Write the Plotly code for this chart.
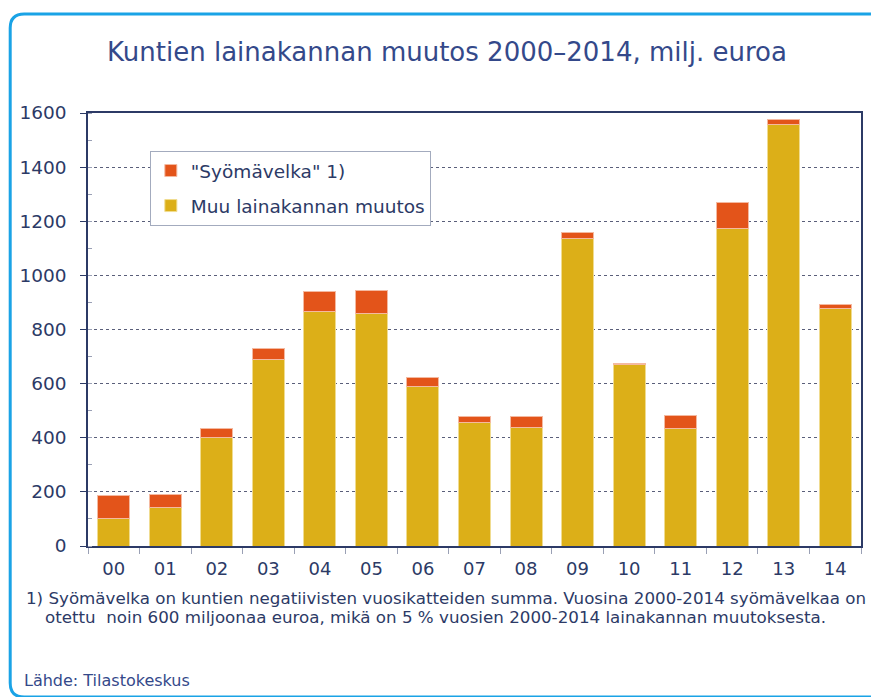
import plotly.graph_objects as go

years = ["00", "01", "02", "03", "04", "05", "06", "07", "08", "09", "10", "11", "12", "13", "14"]
muu = [100, 143, 400, 690, 867, 860, 588, 455, 439, 1138, 672, 433, 1174, 1556, 879]
syomavelka = [88, 48, 33, 40, 75, 83, 36, 22, 41, 20, 4, 51, 94, 21, 14]
y_ticks = [0, 200, 400, 600, 800, 1000, 1200, 1400, 1600]

W, H = 875, 697
L, R, T, B = 88, 12, 113, 151
pw, ph = W - L - R, H - T - B

def px(x):
    return (x - L) / pw

def py(y):
    return (H - B - y) / ph

navy = "#2c3a66"
fig = go.Figure()
fig.add_trace(go.Bar(x=years, y=muu, name="Muu lainakannan muutos", legendgroup="a", legendrank=2,
                     marker=dict(color="#dcaf18", line=dict(color="#f0dc90", width=1))))
fig.add_trace(go.Bar(x=years, y=syomavelka, name="\"Syömävelka\" 1)", legendgroup="b", legendrank=1,
                     marker=dict(color="#e3541a", line=dict(color="#f4b9a0", width=1))))

fig.update_layout(
    width=W, height=H,
    margin=dict(l=L, r=R, t=T, b=B),
    barmode="stack", bargap=0.38,
    plot_bgcolor="white", paper_bgcolor="white",
    font=dict(family="DejaVu Sans", color=navy, size=18),
    title=dict(text="Kuntien lainakannan muutos 2000–2014, milj. euroa",
               x=447 / W, xanchor="center", y=1 - 52 / H, yanchor="middle",
               font=dict(family="DejaVu Sans", size=26, color="#34498a")),
    legend=dict(x=px(150), y=py(151), xanchor="left", yanchor="top",
                traceorder="grouped", tracegroupgap=8,
                bgcolor="white", bordercolor="#a3abbe",
                borderwidth=1, font=dict(size=18.5, color=navy)),
    showlegend=True,
)
fig.update_yaxes(range=[0, 1600], tickvals=y_ticks, showgrid=True,
                 gridcolor="#5a5f7a", griddash="dot", gridwidth=1,
                 showline=True, linecolor=navy, linewidth=1.5, mirror=True,
                 ticks="outside", ticklen=6, tickcolor=navy, ticklabelstandoff=10,
                 minor=dict(ticks="inside", ticklen=4, dtick=100, tickcolor="#9aa0b5", showgrid=False),
                 zeroline=False, tickfont=dict(size=18.5, color=navy))
fig.update_xaxes(showline=True, linecolor=navy, linewidth=1.5, mirror=True,
                 ticks="outside", tickson="boundaries", ticklen=6, tickcolor="#9aa0b5",
                 tickfont=dict(size=18, color=navy), ticklabelstandoff=6)

# rounded frame
frame = (f"M {px(873)},{py(14)} L {px(24)},{py(14)} Q {px(10)},{py(14)} {px(10)},{py(28)} "
         f"L {px(10)},{py(683)} Q {px(10)},{py(697)} {px(24)},{py(697)} L {px(873)},{py(697)}")
fig.add_shape(type="path", path=frame, xref="paper", yref="paper",
              line=dict(color="#1aa3e6", width=3))

fig.add_annotation(text="1) Syömävelka on kuntien negatiivisten vuosikatteiden summa. Vuosina 2000-2014 syömävelkaa on",
                   xref="paper", yref="paper", x=px(24), y=py(598), xanchor="left", yanchor="middle",
                   showarrow=False, font=dict(size=16.7, color=navy))
fig.add_annotation(text="otettu  noin 600 miljoonaa euroa, mikä on 5 % vuosien 2000-2014 lainakannan muutoksesta.",
                   xref="paper", yref="paper", x=px(43), y=py(617), xanchor="left", yanchor="middle",
                   showarrow=False, font=dict(size=16.7, color=navy))
fig.add_annotation(text="Lähde: Tilastokeskus",
                   xref="paper", yref="paper", x=px(22), y=py(680), xanchor="left", yanchor="middle",
                   showarrow=False, font=dict(size=16, color="#34498a"))

fig.write_html("out.html", config={"displayModeBar": False},
               post_script="document.body.style.margin='0';document.body.style.overflow='hidden';")
